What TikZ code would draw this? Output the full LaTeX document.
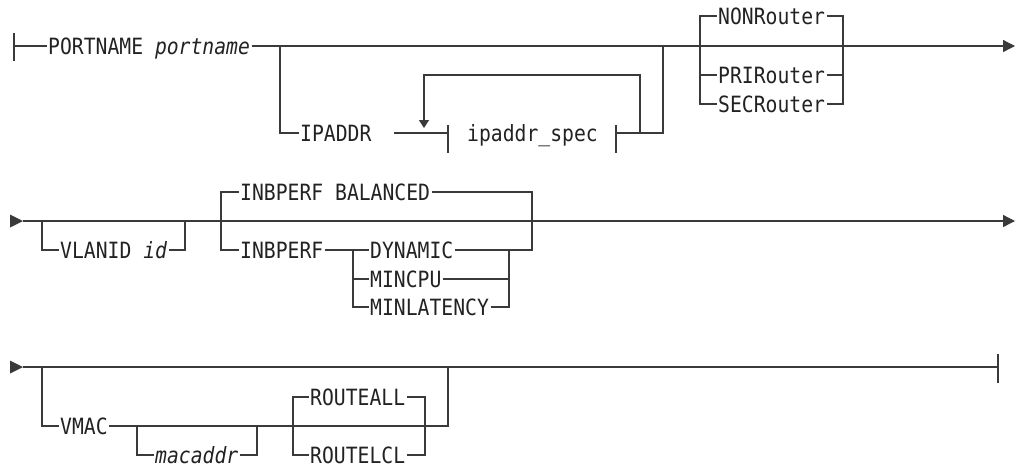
\documentclass[tikz,border=0pt]{standalone}
\usepackage{fontspec}
\usetikzlibrary{arrows.meta}
\newfontfamily\kwfamily{DejaVu Sans Mono}[FakeStretch=0.88]
\newcommand\kwfont{\kwfamily\fontsize{22.4pt}{24pt}\selectfont}
\definecolor{railc}{HTML}{3A3A3A}
\definecolor{kwc}{HTML}{222222}

\begin{document}
\begin{tikzpicture}[x=1pt,y=-1pt,
    rail/.style={draw=railc,line width=1.3pt},
    kw/.style={inner xsep=1.5pt,inner ysep=0pt,text height=16.3pt,text depth=0pt,
               anchor=west,text=kwc,font=\kwfont},
    tip/.style={-{Triangle[length=12pt,width=12pt]}},
    loopback/.style={-{Triangle[length=8pt,width=10pt]}}]
   \useasboundingbox (0,0) rectangle (1025,467);

   % first line
   \coordinate (s1) at (14,46);
   \coordinate (e1) at (1015,46);
   \node[kw] (portname) at (46.5,46)  {PORTNAME \textit{portname}};
   \node[kw] (ipaddr)   at (298.5,133) {IPADDR};
   \node[kw] (spec)     at (465.5,133) {ipaddr\_spec};
   \node[kw] (nonr)     at (716.5,16)  {NONRouter};
   \node[kw] (prir)     at (716.5,75)  {PRIRouter};
   \node[kw] (secr)     at (716.5,104) {SECRouter};
   \coordinate (j1) at (280,46);
   \coordinate (j2) at (663,46);
   \coordinate (g1) at (394,133);
   \coordinate (b1) at (448,133);
   \coordinate (b2) at (616,133);
   \coordinate (r1) at (640,133);
   \coordinate (j3) at (700,46);
   \coordinate (j4) at (843,46);

   \draw[rail] ([yshift=13pt]s1) -- ([yshift=-15pt]s1);
   \draw[rail] (s1) -- (portname.west);
   \draw[rail,tip] (portname.east) -- (e1);
   \draw[rail] (j1) |- (ipaddr.west);
   \draw[rail] (g1) -- (b1);
   \draw[rail] ([yshift=8pt]b1) -- ([yshift=-20pt]b1);
   \draw[rail] ([yshift=8pt]b2) -- ([yshift=-20pt]b2);
   \draw[rail] (b2) -| (j2);
   \draw[rail,loopback] (r1) |- (424,75) -- (424,128);
   \draw[rail] (nonr.west) -| (j3) |- (secr.west);
   \draw[rail] (prir.west -| j3) -- (prir.west);
   \draw[rail] (nonr.east) -| (j4) |- (secr.east);
   \draw[rail] (prir.east) -- (prir.east -| j4);

   % second line
   \coordinate (s2) at (23,221);
   \coordinate (e2) at (1015,221);
   \node[kw] (vlan) at (58.5,250)  {VLANID \textit{id}};
   \node[kw] (bal)  at (238.5,192) {INBPERF BALANCED};
   \node[kw] (inb)  at (238.5,250) {INBPERF};
   \node[kw] (dyn)  at (368.5,250) {DYNAMIC};
   \node[kw] (cpu)  at (368.5,279) {MINCPU};
   \node[kw] (lat)  at (368.5,307) {MINLATENCY};
   \coordinate (v1) at (42,221);
   \coordinate (v2) at (185,221);
   \coordinate (p1) at (221,221);
   \coordinate (p2) at (532,221);
   \coordinate (k1) at (353,250);
   \coordinate (k2) at (509,250);

   \fill[railc] (s2) -- ++(-13,-6.5) -- ++(0,13) -- cycle;
   \draw[rail,tip] (s2) -- (e2);
   \draw[rail] (v1) |- (vlan.west);
   \draw[rail] (vlan.east) -| (v2);
   \draw[rail] (bal.west) -| (p1) |- (inb.west);
   \draw[rail] (bal.east) -| (p2) |- (dyn.east);
   \draw[rail] (inb.east) -- (dyn.west);
   \draw[rail] (k1) |- (cpu.west);
   \draw[rail] (k1) |- (lat.west);
   \draw[rail] (cpu.east) -| (k2);
   \draw[rail] (lat.east) -| (k2);

   % third line
   \coordinate (s3) at (23,367);
   \coordinate (e3) at (998,367);
   \node[kw] (vmac) at (58.5,426)  {VMAC};
   \node[kw] (mac)  at (153.5,455) {\textit{macaddr}};
   \node[kw] (rall) at (308.5,397) {ROUTEALL};
   \node[kw] (rlcl) at (308.5,455) {ROUTELCL};
   \coordinate (m1) at (42,367);
   \coordinate (m2) at (448,367);
   \coordinate (a1) at (137,426);
   \coordinate (a2) at (257,426);
   \coordinate (o1) at (293,426);
   \coordinate (o2) at (425,426);

   \fill[railc] (s3) -- ++(-13,-6.5) -- ++(0,13) -- cycle;
   \draw[rail] (s3) -- (e3);
   \draw[rail] ([yshift=13pt]e3) -- ([yshift=-16pt]e3);
   \draw[rail] (m1) |- (vmac.west);
   \draw[rail] (vmac.east) -| (m2);
   \draw[rail] (a1) |- (mac.west);
   \draw[rail] (mac.east) -| (a2);
   \draw[rail] (rall.west) -| (o1) |- (rlcl.west);
   \draw[rail] (rall.east) -| (o2) |- (rlcl.east);
\end{tikzpicture}
\end{document}
